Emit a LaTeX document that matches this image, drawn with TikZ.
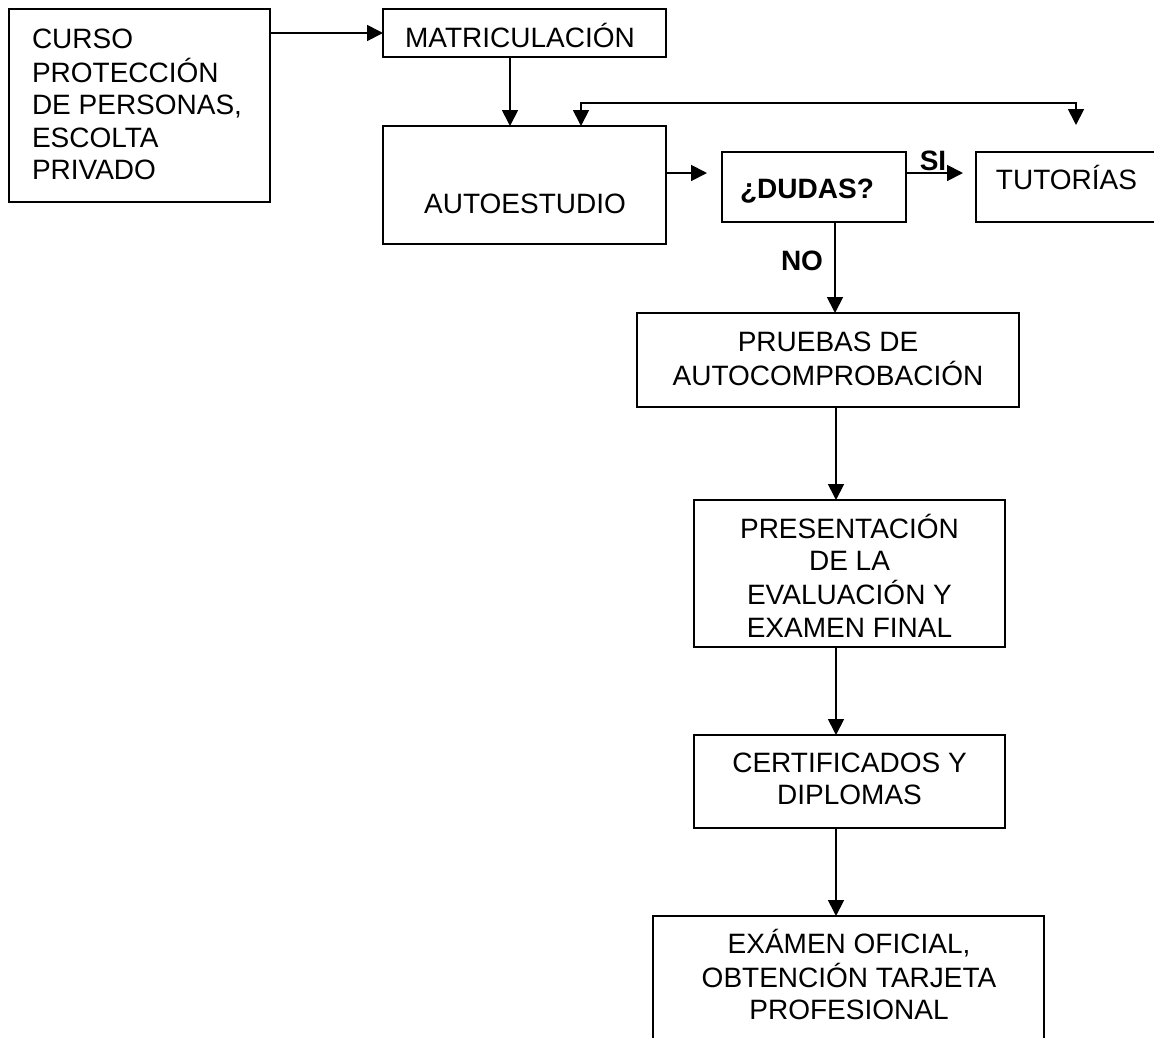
\documentclass[tikz,border=0pt]{standalone}
\usepackage{fontspec}
\setmainfont{Liberation Sans}
\usetikzlibrary{arrows.meta}
\tikzset{
  box/.style={draw=black, line width=1.8pt, rectangle, inner sep=0pt, outer sep=0pt},
  txt/.style={inner sep=0pt, outer sep=0pt, anchor=base, font=\fontsize{28}{32.5}\selectfont},
  btxt/.style={txt, font=\fontsize{28}{32.5}\selectfont\bfseries},
  conn/.style={line width=1.8pt, -{Triangle[length=16pt,width=16pt]}},
  conn2/.style={line width=1.8pt, {Triangle[length=16pt,width=16pt]}-{Triangle[length=16pt,width=16pt]}}
}
\begin{document}
\begin{tikzpicture}[x=1pt,y=-1pt]
\useasboundingbox (0,0) rectangle (1154,1037);
\fill[white] (0,0) rectangle (1154,1037);
\clip (0,0) rectangle (1154,1037);

% boxes
\node[box, minimum width=261pt, minimum height=193pt] (curso) at (139.5,105.5) {};
\node[box, minimum width=283pt, minimum height=48pt] (matric) at (524.5,33) {};
\node[box, minimum width=283pt, minimum height=118pt] (auto) at (524.5,185) {};
\node[box, minimum width=184pt, minimum height=70pt] (dudas) at (814,187) {};
\node[box, minimum width=194pt, minimum height=70pt] (tut) at (1073,187) {};
\node[box, minimum width=382pt, minimum height=94pt] (pruebas) at (828,360) {};
\node[box, minimum width=311pt, minimum height=147pt] (pres) at (849.5,573.5) {};
\node[box, minimum width=311pt, minimum height=93pt] (cert) at (849.5,781.5) {};
\node[box, minimum width=391pt, minimum height=144pt] (exam) at (848.5,988) {};

% texts
\node[txt, anchor=base west] (cursot) at (32,48) {\begin{tabular}[t]{@{}l@{}}CURSO\\PROTECCIÓN\\DE PERSONAS,\\ESCOLTA\\PRIVADO\end{tabular}};
\node[txt] (matrict) at (520,47) {MATRICULACIÓN};
\node[txt] (autot) at (525,213) {AUTOESTUDIO};
\node[btxt] (dudast) at (807,198) {¿DUDAS?};
\node[txt] (tutt) at (1066.5,189) {TUTORÍAS};
\node[btxt] (sit) at (933,170) {SI};
\node[btxt] (not) at (802,270) {NO};
\node[txt] (pruebast) at (828,351) {\begin{tabular}[t]{@{}c@{}}PRUEBAS DE\\AUTOCOMPROBACIÓN\end{tabular}};
\node[txt] (prest) at (849.5,538) {\begin{tabular}[t]{@{}c@{}}PRESENTACIÓN\\DE LA\\EVALUACIÓN Y\\EXAMEN FINAL\end{tabular}};
\node[txt] (certt) at (849.5,772) {\begin{tabular}[t]{@{}c@{}}CERTIFICADOS Y\\DIPLOMAS\end{tabular}};
\node[txt] (examt) at (849,953) {\begin{tabular}[t]{@{}c@{}}EXÁMEN OFICIAL,\\OBTENCIÓN TARJETA\\PROFESIONAL\end{tabular}};

% helper coordinates
\coordinate (axis) at (836,0);
\coordinate (dudasin) at (707,173);
\coordinate (tutin) at (963,173);
\coordinate (tuttop) at (1076,125);

% connectors
\draw[conn] (curso.east |- matric.west) -- (matric.west);
\draw[conn] ([xshift=-14.5pt]matric.south) -- ([xshift=-14.5pt]matric.south |- auto.north);
\draw[conn2] (tuttop) -- ++(0,-22) -| ([xshift=56.5pt]auto.north);
\draw[conn] (auto.east |- dudasin) -- (dudasin);
\draw[conn] (dudas.east |- tutin) -- (tutin);
\draw[conn] (dudas.south -| 835,0) -- (pruebas.north -| 835,0);
\draw[conn] (pruebas.south -| axis) -- (pres.north -| axis);
\draw[conn] (pres.south -| axis) -- (cert.north -| axis);
\draw[conn] (cert.south -| axis) -- (exam.north -| axis);
\end{tikzpicture}
\end{document}
